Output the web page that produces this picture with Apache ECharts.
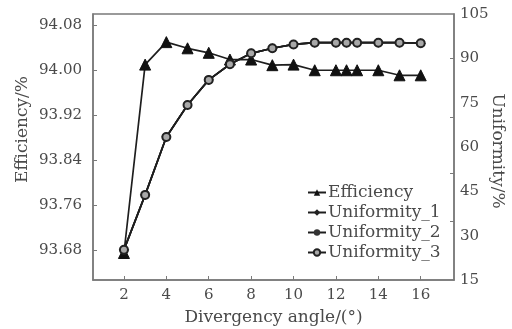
<!DOCTYPE html>
<html>
<head>
<meta charset="utf-8">
<script src="https://cdn.jsdelivr.net/npm/echarts@6/dist/echarts.min.js"></script>
<style>html,body{margin:0;padding:0;background:#fff;}#c{width:512px;height:329px;}</style>
</head>
<body>
<div id="c"></div>
<script>
const angles = [2, 3, 4, 5, 6, 7, 8, 9, 10, 11, 12, 12.5, 13, 14, 15, 16];
const efficiency = [93.675, 94.01, 94.05, 94.039, 94.031, 94.019, 94.019, 94.009, 94.01, 94.0, 94.0, 94.0, 94.0, 94.0, 93.991, 93.991];
const uniformity1 = [25.2, 43.8, 63.4, 74.2, 82.7, 88.0, 91.7, 93.4, 94.7, 95.3, 95.3, 95.3, 95.3, 95.3, 95.3, 95.1];
const uniformity2 = [25.2, 43.8, 63.4, 74.2, 82.7, 88.0, 91.7, 93.4, 94.7, 95.3, 95.3, 95.3, 95.3, 95.3, 95.3, 95.1];
const uniformity3 = [25.2, 43.8, 63.4, 74.2, 82.7, 88.0, 91.7, 93.4, 94.7, 95.3, 95.3, 95.3, 95.3, 95.3, 95.3, 95.1];
const xTicks = [2, 4, 6, 8, 10, 12, 14, 16];
const effTicks = [93.68, 93.76, 93.84, 93.92, 94.00, 94.08];
const uniTickMarks = [90, 70, 51, 35];
const seriesNames = ['Efficiency', 'Uniformity_1', 'Uniformity_2', 'Uniformity_3'];

const pair = (ys) => angles.map((x, i) => [x, ys[i]]);
const FONT = 'DejaVu Serif';
const lineCol = '#1e1e1e';
const axisCol = '#7a7a7a';
const textCol = '#4a4a4a';

const chart = echarts.init(document.getElementById('c'), null, {renderer: 'canvas'});
chart.setOption({
  animation: false,
  backgroundColor: '#fff',
  textStyle: {fontFamily: FONT},
  grid: {left: 93, top: 14, right: 58, bottom: 49, show: true, borderColor: axisCol, borderWidth: 1.5, outerBoundsMode: 'none', containLabel: false},
  legend: {
    data: seriesNames,
    orient: 'vertical',
    left: 307, top: 184,
    padding: 0,
    itemGap: 3,
    itemWidth: 18, itemHeight: 8,
    textStyle: {fontFamily: FONT, fontSize: 17, color: textCol, lineHeight: 17, padding: [0, 0, 0, -3]}
  },
  xAxis: {
    type: 'value', min: 0.54, max: 17.57,
    name: 'Divergency angle/(°)', nameLocation: 'middle', nameGap: 29, nameMoveOverlap: false,
    nameTextStyle: {fontFamily: FONT, fontSize: 17, color: textCol},
    axisLine: {show: true, lineStyle: {color: axisCol, width: 1.5}},
    axisTick: {show: true, inside: true, length: 4, customValues: xTicks, lineStyle: {color: axisCol}},
    axisLabel: {customValues: xTicks, fontFamily: FONT, fontSize: 15, color: textCol, margin: 8},
    splitLine: {show: false}
  },
  yAxis: [{
    type: 'value', min: 93.627, max: 94.10, position: 'left',
    name: 'Efficiency/%', nameLocation: 'middle', nameGap: 62, nameMoveOverlap: false,
    nameTextStyle: {fontFamily: FONT, fontSize: 17, color: textCol, padding: [0, 0, 0, 35]},
    axisLine: {show: true, lineStyle: {color: axisCol, width: 1.5}},
    axisTick: {show: true, inside: true, length: 4, customValues: effTicks, lineStyle: {color: axisCol}},
    axisLabel: {customValues: effTicks, formatter: (v) => v.toFixed(2), fontFamily: FONT, fontSize: 15, color: textCol, margin: 11},
    splitLine: {show: false}
  }, {
    type: 'value', min: 15, max: 105, interval: 15, position: 'right',
    name: 'Uniformity/%', nameLocation: 'middle', nameGap: 35, nameRotate: -90, nameMoveOverlap: false,
    nameTextStyle: {fontFamily: FONT, fontSize: 17, color: textCol, padding: [0, 0, 0, 8]},
    axisLine: {show: true, lineStyle: {color: axisCol, width: 1.5}},
    axisTick: {show: true, inside: true, length: 4, customValues: uniTickMarks, lineStyle: {color: axisCol}},
    axisLabel: {fontFamily: FONT, fontSize: 15, color: textCol, margin: 6, showMinLabel: true, showMaxLabel: true},
    splitLine: {show: false}
  }],
  series: [{
    name: seriesNames[0], type: 'line', yAxisIndex: 0, data: pair(efficiency),
    symbol: 'triangle', symbolSize: 11,
    lineStyle: {color: lineCol, width: 1.7},
    itemStyle: {color: '#111', borderColor: '#111'}
  }, {
    name: seriesNames[1], type: 'line', yAxisIndex: 1, data: pair(uniformity1),
    symbol: 'diamond', symbolSize: 9,
    lineStyle: {color: lineCol, width: 1.7},
    itemStyle: {color: '#222', borderColor: '#222'}
  }, {
    name: seriesNames[2], type: 'line', yAxisIndex: 1, data: pair(uniformity2),
    symbol: 'circle', symbolSize: 8,
    lineStyle: {color: lineCol, width: 1.7},
    itemStyle: {color: '#333', borderColor: '#333'}
  }, {
    name: seriesNames[3], type: 'line', yAxisIndex: 1, data: pair(uniformity3),
    symbol: 'circle', symbolSize: 8,
    lineStyle: {color: lineCol, width: 1.7},
    itemStyle: {color: '#a8a8a8', borderColor: '#222', borderWidth: 2}
  }]
});
</script>
</body>
</html>
